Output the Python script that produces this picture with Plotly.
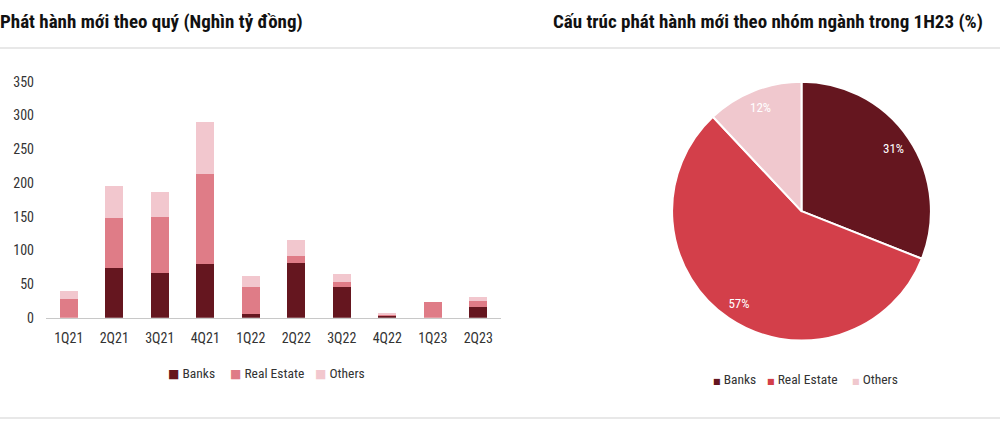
import plotly.graph_objects as go

quarters = ['1Q21', '2Q21', '3Q21', '4Q21', '1Q22', '2Q22', '3Q22', '4Q22', '1Q23', '2Q23']
banks = [0, 74, 67, 79, 5, 81, 45, 3, 0, 16]
real_estate = [28, 74, 83, 134, 40, 11, 8, 3, 24, 9]
others = [12, 48, 37, 77, 17, 24, 12, 1, 0, 6]

pie_labels = ['Banks', 'Real Estate', 'Others']
pie_values = [31, 57, 12]

y_ticks = [0, 50, 100, 150, 200, 250, 300, 350]

FONT = 'Liberation Sans Narrow, Roboto Condensed, Roboto, Arial'
bar_colors = ['#65161F', '#DF7C87', '#F2C7CE']
pie_colors = ['#65161F', '#D33F4A', '#F0C8CE']
pie_domain = dict(x=[0.671, 0.932], y=[0.208, 0.810])

W, H = 1000, 430

fig = go.Figure()
for name, vals, col in zip(pie_labels, [banks, real_estate, others], bar_colors):
    fig.add_trace(go.Bar(x=quarters, y=vals, name=name, marker_color=col,
                         marker_line_width=0, showlegend=False))

# the pie itself
fig.add_trace(go.Pie(labels=pie_labels, values=pie_values, sort=False,
                     direction='clockwise', rotation=0,
                     marker=dict(colors=pie_colors, line=dict(color='white', width=2)),
                     textinfo='none', domain=pie_domain, showlegend=False,
                     hoverinfo='label+percent'))
# transparent ring on top only to carry the labels near the rim
fig.add_trace(go.Pie(labels=pie_labels, values=pie_values, sort=False,
                     direction='clockwise', rotation=0, hole=0.72,
                     marker=dict(colors=['rgba(0,0,0,0)'] * 3, line=dict(width=0)),
                     texttemplate='%{value}%', textposition='inside',
                     insidetextorientation='horizontal',
                     textfont=dict(color='white', size=13, family=FONT),
                     domain=pie_domain, showlegend=False, hoverinfo='skip'))

fig.update_layout(
    width=W, height=H,
    margin=dict(l=0, r=0, t=0, b=0, autoexpand=False),
    paper_bgcolor='white', plot_bgcolor='white',
    barmode='stack', bargap=0.6,
    font=dict(family=FONT, size=14, color='#333333'),
    xaxis=dict(domain=[0.046, 0.501], showgrid=False, showline=True,
               linecolor='#c8c8c8', linewidth=1, ticks='', ticklabelstandoff=7,
               tickfont=dict(size=14, color='#333333')),
    yaxis=dict(domain=[0.261, 0.81], range=[0, 350], tickvals=y_ticks,
               showgrid=False, zeroline=False, showline=False, ticks='',
               ticklabelstandoff=11, tickfont=dict(size=14, color='#333333')),
    showlegend=False,
)

fig.add_annotation(text='<b>Phát hành mới theo quý (Nghìn tỷ đồng)</b>',
                   xref='paper', yref='paper', x=-0.002, y=1 - 22 / H,
                   xanchor='left', yanchor='middle', showarrow=False,
                   font=dict(size=19, color='#111111', family=FONT))
fig.add_annotation(text='<b>Cấu trúc phát hành mới theo nhóm ngành trong 1H23 (%)</b>',
                   xref='paper', yref='paper', x=0.985, y=1 - 22 / H,
                   xanchor='right', yanchor='middle', showarrow=False,
                   font=dict(size=19, color='#111111', family=FONT))

# legends, drawn as text so the marker sits close to its label like the original
def legend_item(x_px, y_px, name, col, sq):
    fig.add_annotation(
        text=f'<span style="color:{col};font-size:{sq}px;font-family:DejaVu Sans">■</span> {name}',
        xref='paper', yref='paper', x=x_px / W, y=1 - y_px / H,
        xanchor='left', yanchor='middle', showarrow=False,
        font=dict(size=13.5, color='#333333', family=FONT))

for xp, name, col in zip([166, 228, 313], pie_labels, bar_colors):
    legend_item(xp, 373, name, col, 12)
for xp, name, col in zip([711, 765, 850], pie_labels, pie_colors):
    legend_item(xp, 379, name, col, 8)

# separator lines
fig.add_shape(type='line', xref='paper', yref='paper', x0=0, x1=1,
              y0=1 - 48 / H, y1=1 - 48 / H, line=dict(color='#e8e8e8', width=2))
fig.add_shape(type='line', xref='paper', yref='paper', x0=0, x1=1,
              y0=1 - 418 / H, y1=1 - 418 / H, line=dict(color='#e8e8e8', width=2))

fig.write_html('out.html', config={'displayModeBar': False},
               post_script="document.body.style.margin='0px';")
